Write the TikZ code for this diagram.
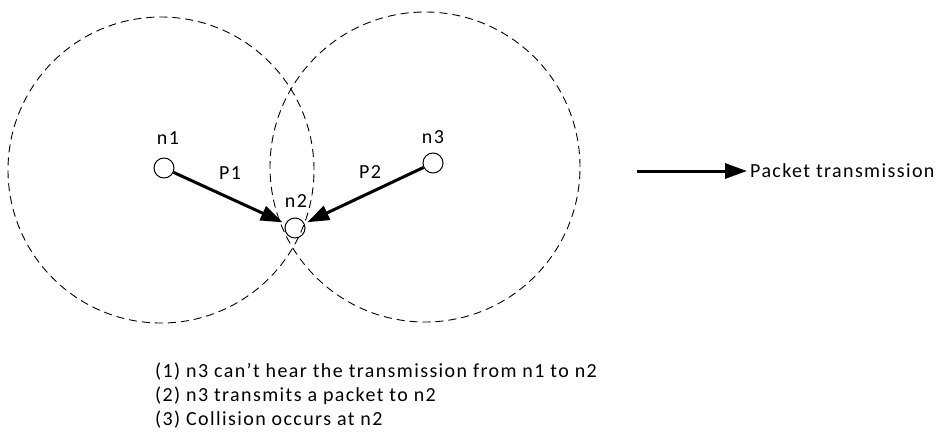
\documentclass[tikz,border=0pt]{standalone}
\usepackage{fontspec}
\setmainfont{Carlito}[LetterSpace=7]
\usetikzlibrary{arrows.meta}

\begin{document}
\begin{tikzpicture}[x=1pt, y=-1pt, >={Triangle[length=22pt, width=15pt]},
    font=\fontsize{20}{24}\selectfont,
    station/.style={draw, circle, line width=1pt, minimum size=20pt, inner sep=0pt},
    radiorange/.style={line width=0.9pt, dash pattern=on 8pt off 5pt},
    pkt/.style={->, line width=3pt, shorten >=3pt}]
    \useasboundingbox (0,0) rectangle (943,434);

    % Reichweiten
    \draw[radiorange] (161,170) circle[radius=153pt];
    \draw[radiorange] (425,167) circle[radius=155pt];

    % Stationen
    \node[station] (n1) at (164,168) {};
    \node[station] (n2) at (295,228) {};
    \node[station] (n3) at (433,163) {};
    \node (n1lbl) at (168,138) {n1};
    \node (n2lbl) at (296,201) {n2};
    \node (n3lbl) at (433,137) {n3};

    % Pakete
    \draw[pkt] (n1) -- (n2);
    \draw[pkt] (n3) -- (n2);
    \node (p1) at (230,173) {P1};
    \node (p2) at (370,172) {P2};

    % Legende
    \coordinate (lgs) at (637,171);
    \node[anchor=west, inner sep=3pt] (lgt) at (747,171) {Packet transmission};
    \draw[pkt, shorten >=0pt] (lgs) -- (lgt.west);

    % Erklaerung
    \node[anchor=west, inner sep=0pt] (note1) at (155,372) {(1) n3 can't hear the transmission from n1 to n2};
    \node[anchor=west, inner sep=0pt] (note2) at (155,396) {(2) n3 transmits a packet to n2};
    \node[anchor=west, inner sep=0pt] (note3) at (155,420) {(3) Collision occurs at n2};
\end{tikzpicture}
\end{document}
